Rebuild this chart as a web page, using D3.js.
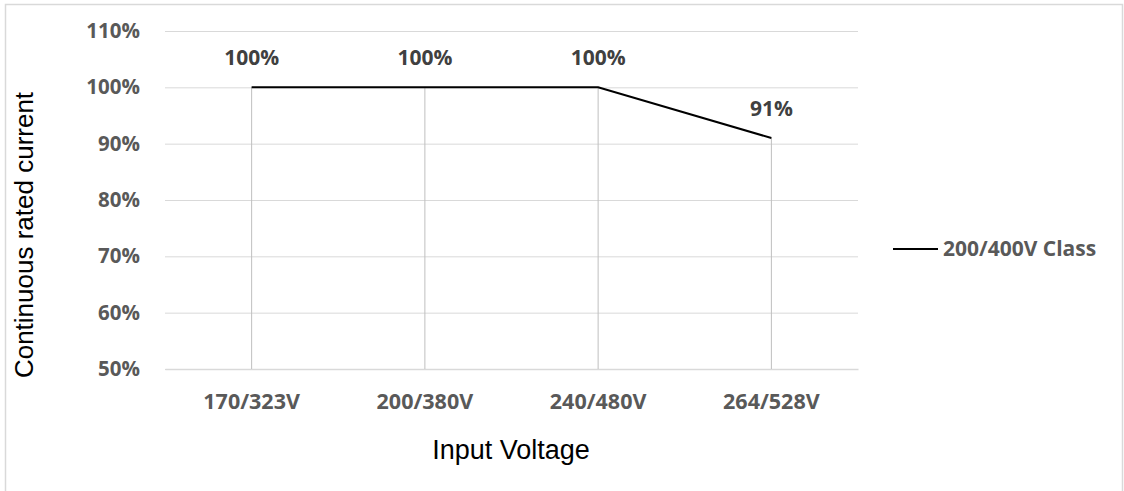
<!DOCTYPE html>
<html><head><meta charset="utf-8">
<script src="https://cdn.jsdelivr.net/npm/d3@7"></script>
<style>
html,body{margin:0;padding:0;background:#fff;}
svg{display:block;}
</style></head>
<body>
<script>
const categories = ["170/323V","200/380V","240/480V","264/528V"];
const values = [100,100,100,91];
const yTicks = [50,60,70,80,90,100,110];
const seriesName = "200/400V Class";
const xTitle = "Input Voltage";
const yTitle = "Continuous rated current";

const W=1124,H=491;
const svg=d3.select("body").append("svg").attr("width",W).attr("height",H);
svg.append("rect").attr("x",5.5).attr("y",4.5).attr("width",1117).attr("height",500)
  .attr("fill","#fff").attr("stroke","#d9d9d9").attr("stroke-width",1.5);

const L=165,R=858,T=31,B=369;
const x=d3.scaleBand().domain(categories).range([L,R]).padding(0);
const y=d3.scaleLinear().domain([50,110]).range([B,T]);
const tickFont="'Open Sans', sans-serif";
const titleFont="'Liberation Sans', Arial, sans-serif";

// gridlines
svg.append("g").call(d3.axisLeft(y).tickValues(yTicks).tickSize(-(R-L)).tickFormat(""))
  .attr("transform",`translate(${L},0)`)
  .call(g=>g.select(".domain").remove())
  .call(g=>g.selectAll("line").attr("stroke","#d9d9d9").attr("stroke-width",1));

// y tick labels
svg.append("g").attr("transform",`translate(${L},0)`)
  .call(d3.axisLeft(y).tickValues(yTicks).tickSize(0).tickPadding(25).tickFormat(d=>d+"%"))
  .call(g=>g.select(".domain").remove())
  .call(g=>g.selectAll("text").attr("fill","#595959").attr("font-size",20.5).attr("font-weight","bold").attr("font-family",tickFont));

// x axis
svg.append("g").attr("transform",`translate(0,${B})`)
  .call(d3.axisBottom(x).tickSize(0).tickPadding(25))
  .call(g=>g.select(".domain").attr("stroke","#d9d9d9").attr("stroke-width",1.5))
  .call(g=>g.selectAll("text").attr("fill","#595959").attr("font-size",21.5).attr("font-weight","bold").attr("font-family",tickFont));

const cx=d=>x(d)+x.bandwidth()/2;
// drop lines
svg.append("g").selectAll("line").data(categories).join("line")
  .attr("x1",(d)=>cx(d)).attr("x2",d=>cx(d))
  .attr("y1",(d,i)=>y(values[i])).attr("y2",y(50))
  .attr("stroke","#bfbfbf").attr("stroke-width",1);

// series line
const line=d3.line().x((d,i)=>cx(categories[i])).y(d=>y(d));
svg.append("path").datum(values).attr("d",line).attr("fill","none")
  .attr("stroke","#000").attr("stroke-width",2);

// data labels
svg.append("g").selectAll("text").data(values).join("text")
  .attr("x",(d,i)=>cx(categories[i])).attr("y",d=>y(d)-22)
  .attr("text-anchor","middle").attr("fill","#404040").attr("font-size",21)
  .attr("font-weight","bold").attr("font-family",tickFont).text(d=>d+"%");

// legend
svg.append("line").attr("x1",893).attr("x2",938).attr("y1",249).attr("y2",249)
  .attr("stroke","#000").attr("stroke-width",2);
svg.append("text").attr("x",943).attr("y",256).attr("fill","#595959")
  .attr("font-size",21).attr("font-weight","bold").attr("font-family",tickFont).text(seriesName);

// axis titles
svg.append("text").attr("x",511).attr("y",459).attr("text-anchor","middle")
  .attr("font-size",27).attr("font-family",titleFont).attr("fill","#000").text(xTitle);
svg.append("text").attr("transform",`translate(33,235) rotate(-90)`).attr("text-anchor","middle")
  .attr("font-size",26).attr("font-family",titleFont).attr("fill","#000").text(yTitle);
</script>
</body></html>
